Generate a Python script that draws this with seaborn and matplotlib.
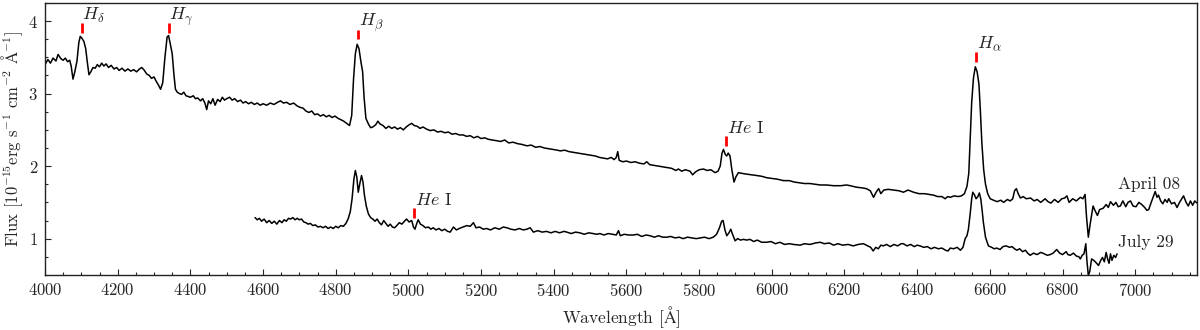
import numpy as np
import pandas as pd
import matplotlib
matplotlib.use("Agg")
import matplotlib.pyplot as plt
import seaborn as sns
from matplotlib.ticker import MultipleLocator

# spectrum of April 08 (wavelength in A, flux in 1e-15 erg/s/cm2/A)
april_wave = [
    4000, 4008, 4015, 4022, 4030, 4036, 4044, 4050, 4056, 4062, 4068, 4072, 4077, 4082, 4088, 4093,
    4097, 4102, 4107, 4112, 4116, 4121, 4126, 4132, 4138, 4144, 4150, 4156, 4162, 4168, 4175, 4182,
    4190, 4197, 4204, 4212, 4220, 4228, 4236, 4244, 4252, 4260, 4266, 4272, 4280, 4287, 4293, 4300,
    4306, 4312, 4318, 4324, 4330, 4336, 4340, 4345, 4350, 4355, 4359, 4364, 4370, 4376, 4382, 4388,
    4394, 4400, 4408, 4414, 4420, 4428, 4434, 4440, 4445, 4450, 4456, 4462, 4468, 4475, 4482, 4488,
    4494, 4500, 4508, 4515, 4522, 4530, 4538, 4545, 4552, 4560, 4568, 4576, 4584, 4592, 4600, 4610,
    4620, 4630, 4640, 4648, 4656, 4665, 4674, 4684, 4694, 4702, 4710, 4718, 4726, 4734, 4742, 4750,
    4758, 4766, 4774, 4782, 4790, 4798, 4806, 4814, 4822, 4830, 4838, 4844, 4849, 4854, 4859, 4864,
    4869, 4874, 4878, 4883, 4890, 4896, 4902, 4910, 4916, 4922, 4930, 4938, 4946, 4954, 4962, 4970,
    4978, 4986, 4994, 5002, 5009, 5016, 5024, 5032, 5040, 5050, 5060, 5070, 5080, 5090, 5100, 5110,
    5120, 5130, 5140, 5151, 5160, 5170, 5180, 5190, 5200, 5210, 5220, 5232, 5243, 5254, 5265, 5276,
    5288, 5300, 5312, 5326, 5338, 5350, 5362, 5374, 5386, 5398, 5410, 5418, 5430, 5442, 5455, 5466,
    5478, 5490, 5502, 5514, 5526, 5537, 5548, 5558, 5566, 5572, 5576, 5580, 5590, 5600, 5612, 5624,
    5636, 5648, 5656, 5664, 5676, 5688, 5700, 5712, 5724, 5736, 5743, 5752, 5762, 5775, 5782, 5790,
    5800, 5812, 5822, 5832, 5844, 5852, 5858, 5863, 5867, 5872, 5876, 5880, 5885, 5890, 5896, 5901,
    5908, 5918, 5930, 5945, 5959, 5972, 5986, 6000, 6015, 6032, 6048, 6062, 6076, 6090, 6105, 6120,
    6133, 6150, 6170, 6190, 6205, 6216, 6232, 6248, 6260, 6271, 6280, 6287, 6294, 6300, 6308, 6320,
    6335, 6350, 6362, 6375, 6390, 6405, 6420, 6432, 6445, 6456, 6468, 6477, 6484, 6491, 6502, 6513,
    6522, 6530, 6537, 6542, 6546, 6550, 6555, 6560, 6565, 6570, 6574, 6578, 6583, 6588, 6594, 6601,
    6610, 6620, 6630, 6638, 6648, 6656, 6663, 6668, 6673, 6678, 6684, 6692, 6700, 6712, 6722, 6730,
    6740, 6752, 6760, 6768, 6778, 6788, 6798, 6806, 6812, 6818, 6828, 6838, 6849, 6856, 6862, 6866,
    6871, 6876, 6884, 6890, 6896, 6902, 6912, 6920, 6926, 6932, 6940, 6947, 6953, 6959, 6966, 6974,
    6980, 6987, 6994, 7002, 7010, 7018, 7026, 7032, 7037, 7044, 7050, 7055, 7060, 7064, 7070, 7076,
    7082, 7088, 7092, 7100, 7108, 7115, 7122, 7128, 7133, 7140, 7146, 7152, 7158, 7164, 7170]
april_flux = [
    3.40, 3.47, 3.42, 3.49, 3.45, 3.54, 3.48, 3.46, 3.49, 3.44, 3.46, 3.38, 3.20, 3.30, 3.45, 3.70,
    3.79, 3.76, 3.72, 3.62, 3.45, 3.26, 3.30, 3.36, 3.35, 3.40, 3.37, 3.42, 3.38, 3.41, 3.36, 3.39,
    3.34, 3.36, 3.32, 3.35, 3.31, 3.34, 3.31, 3.33, 3.30, 3.34, 3.36, 3.33, 3.27, 3.25, 3.21, 3.23,
    3.17, 3.12, 3.06, 3.15, 3.50, 3.78, 3.80, 3.68, 3.55, 3.25, 3.06, 3.02, 3.00, 2.99, 3.02, 2.97,
    2.96, 2.95, 2.97, 2.93, 2.94, 2.90, 2.93, 2.87, 2.78, 2.90, 2.86, 2.93, 2.84, 2.92, 2.89, 2.95,
    2.91, 2.93, 2.95, 2.91, 2.93, 2.89, 2.91, 2.87, 2.89, 2.86, 2.88, 2.85, 2.87, 2.84, 2.86, 2.84,
    2.87, 2.85, 2.88, 2.90, 2.87, 2.88, 2.85, 2.87, 2.83, 2.81, 2.80, 2.76, 2.74, 2.76, 2.71, 2.72,
    2.69, 2.71, 2.68, 2.70, 2.67, 2.69, 2.66, 2.64, 2.62, 2.59, 2.56, 2.70, 3.20, 3.55, 3.68, 3.62,
    3.45, 3.30, 2.95, 2.66, 2.58, 2.53, 2.54, 2.57, 2.62, 2.58, 2.56, 2.52, 2.55, 2.52, 2.54, 2.51,
    2.53, 2.50, 2.54, 2.57, 2.59, 2.56, 2.55, 2.52, 2.54, 2.51, 2.49, 2.50, 2.47, 2.48, 2.46, 2.47,
    2.44, 2.45, 2.43, 2.43, 2.41, 2.42, 2.39, 2.41, 2.38, 2.39, 2.37, 2.36, 2.35, 2.34, 2.36, 2.32,
    2.33, 2.31, 2.30, 2.28, 2.29, 2.26, 2.27, 2.25, 2.24, 2.23, 2.22, 2.21, 2.22, 2.20, 2.19, 2.18,
    2.17, 2.16, 2.15, 2.14, 2.12, 2.11, 2.10, 2.12, 2.09, 2.12, 2.20, 2.08, 2.06, 2.07, 2.05, 2.06,
    2.04, 2.03, 2.06, 2.02, 2.01, 2.00, 1.99, 1.98, 1.97, 1.94, 1.96, 1.93, 1.95, 1.93, 1.88, 1.92,
    1.95, 1.96, 1.94, 1.95, 1.91, 1.93, 2.00, 2.18, 2.23, 2.16, 2.14, 2.18, 2.14, 1.95, 1.78, 1.85,
    1.91, 1.90, 1.89, 1.88, 1.87, 1.86, 1.84, 1.83, 1.82, 1.80, 1.80, 1.78, 1.77, 1.76, 1.76, 1.75,
    1.74, 1.74, 1.73, 1.73, 1.74, 1.73, 1.71, 1.70, 1.69, 1.66, 1.57, 1.64, 1.69, 1.62, 1.67, 1.68,
    1.67, 1.66, 1.64, 1.67, 1.64, 1.62, 1.62, 1.61, 1.60, 1.58, 1.58, 1.55, 1.58, 1.57, 1.59, 1.58,
    1.59, 1.62, 1.72, 1.90, 2.40, 2.88, 3.22, 3.37, 3.30, 3.13, 2.75, 2.32, 1.95, 1.75, 1.62, 1.55,
    1.53, 1.51, 1.53, 1.50, 1.54, 1.52, 1.55, 1.66, 1.69, 1.62, 1.56, 1.58, 1.55, 1.56, 1.52, 1.54,
    1.50, 1.55, 1.51, 1.49, 1.54, 1.50, 1.55, 1.56, 1.59, 1.50, 1.55, 1.52, 1.57, 1.55, 1.61, 1.30,
    1.02, 1.20, 1.45, 1.38, 1.32, 1.40, 1.42, 1.47, 1.43, 1.51, 1.46, 1.50, 1.44, 1.45, 1.52, 1.44,
    1.50, 1.52, 1.45, 1.44, 1.50, 1.47, 1.43, 1.39, 1.40, 1.50, 1.58, 1.65, 1.57, 1.60, 1.52, 1.48,
    1.54, 1.50, 1.55, 1.48, 1.50, 1.43, 1.50, 1.55, 1.59, 1.50, 1.45, 1.52, 1.46, 1.52, 1.49]

# spectrum of July 29
july_wave = [
    4578, 4584, 4590, 4596, 4603, 4610, 4617, 4624, 4631, 4638, 4645, 4652, 4658, 4664, 4670, 4676,
    4682, 4688, 4694, 4700, 4706, 4712, 4718, 4724, 4730, 4737, 4744, 4751, 4758, 4765, 4772, 4779,
    4786, 4793, 4800, 4807, 4814, 4821, 4828, 4834, 4840, 4845, 4850, 4854, 4858, 4862, 4866, 4871,
    4875, 4879, 4884, 4890, 4896, 4902, 4908, 4914, 4920, 4926, 4932, 4938, 4944, 4950, 4956, 4962,
    4968, 4975, 4982, 4989, 4995, 5002, 5009, 5014, 5018, 5023, 5027, 5033, 5040, 5047, 5055, 5062,
    5068, 5076, 5084, 5092, 5100, 5108, 5115, 5124, 5132, 5140, 5150, 5161, 5170, 5179, 5186, 5196,
    5206, 5215, 5226, 5238, 5250, 5261, 5271, 5282, 5294, 5305, 5316, 5326, 5335, 5344, 5356, 5368,
    5380, 5392, 5404, 5416, 5428, 5436, 5448, 5460, 5472, 5484, 5496, 5508, 5518, 5527, 5538, 5550,
    5562, 5572, 5578, 5583, 5594, 5606, 5619, 5630, 5642, 5654, 5665, 5677, 5688, 5700, 5711, 5722,
    5734, 5745, 5756, 5768, 5780, 5792, 5803, 5815, 5827, 5839, 5848, 5856, 5862, 5866, 5871, 5876,
    5882, 5887, 5892, 5899, 5906, 5914, 5922, 5931, 5940, 5950, 5960, 5972, 5986, 5998, 6010, 6022,
    6035, 6048, 6060, 6078, 6090, 6105, 6120, 6133, 6145, 6158, 6170, 6182, 6195, 6210, 6224, 6238,
    6252, 6264, 6272, 6279, 6286, 6293, 6300, 6307, 6316, 6326, 6336, 6346, 6356, 6362, 6372, 6382,
    6392, 6400, 6408, 6418, 6428, 6438, 6448, 6458, 6468, 6478, 6485, 6491, 6500, 6510, 6519, 6526,
    6532, 6537, 6541, 6546, 6550, 6553, 6558, 6562, 6567, 6571, 6575, 6579, 6582, 6588, 6596, 6605,
    6612, 6619, 6628, 6636, 6645, 6654, 6661, 6668, 6674, 6682, 6690, 6698, 6704, 6711, 6720, 6730,
    6740, 6750, 6758, 6766, 6774, 6784, 6792, 6800, 6810, 6815, 6821, 6830, 6838, 6845, 6849, 6854,
    6859, 6864, 6867, 6871, 6875, 6880, 6886, 6892, 6899, 6905, 6910, 6915, 6920, 6924, 6928, 6932,
    6936, 6941, 6946, 6950]
july_flux = [
    1.29, 1.26, 1.28, 1.24, 1.27, 1.22, 1.25, 1.21, 1.24, 1.20, 1.25, 1.22, 1.26, 1.24, 1.28, 1.27,
    1.29, 1.26, 1.28, 1.26, 1.27, 1.23, 1.22, 1.20, 1.21, 1.18, 1.19, 1.16, 1.17, 1.15, 1.17, 1.14,
    1.16, 1.14, 1.17, 1.15, 1.18, 1.17, 1.21, 1.27, 1.37, 1.55, 1.82, 1.94, 1.85, 1.64, 1.75, 1.87,
    1.78, 1.60, 1.45, 1.34, 1.29, 1.27, 1.24, 1.27, 1.22, 1.19, 1.25, 1.21, 1.17, 1.20, 1.16, 1.15,
    1.18, 1.22, 1.20, 1.24, 1.27, 1.23, 1.25, 1.16, 1.13, 1.21, 1.26, 1.20, 1.18, 1.15, 1.16, 1.13,
    1.15, 1.12, 1.14, 1.11, 1.13, 1.10, 1.09, 1.16, 1.12, 1.14, 1.16, 1.18, 1.17, 1.22, 1.15, 1.16,
    1.13, 1.14, 1.12, 1.15, 1.13, 1.16, 1.15, 1.13, 1.12, 1.14, 1.12, 1.13, 1.15, 1.09, 1.11, 1.09,
    1.10, 1.08, 1.10, 1.08, 1.10, 1.09, 1.07, 1.09, 1.08, 1.06, 1.08, 1.07, 1.06, 1.07, 1.05, 1.07,
    1.06, 1.05, 1.11, 1.04, 1.06, 1.05, 1.05, 1.06, 1.03, 1.05, 1.04, 1.02, 1.04, 1.02, 1.02, 1.03,
    1.01, 1.02, 1.00, 1.02, 1.01, 1.00, 1.01, 1.02, 1.00, 1.02, 1.06, 1.15, 1.24, 1.25, 1.12, 1.04,
    1.08, 1.13, 1.06, 0.97, 1.00, 0.98, 0.99, 0.98, 0.99, 0.96, 0.98, 0.95, 0.95, 0.96, 0.93, 0.95,
    0.92, 0.93, 0.92, 0.91, 0.93, 0.92, 0.94, 0.95, 0.93, 0.94, 0.91, 0.93, 0.91, 0.92, 0.90, 0.92,
    0.93, 0.90, 0.88, 0.83, 0.88, 0.86, 0.91, 0.90, 0.92, 0.89, 0.92, 0.90, 0.93, 0.93, 0.90, 0.92,
    0.89, 0.91, 0.90, 0.88, 0.89, 0.86, 0.88, 0.86, 0.87, 0.84, 0.83, 0.87, 0.86, 0.88, 0.84, 0.88,
    1.00, 1.04, 1.13, 1.35, 1.55, 1.64, 1.60, 1.55, 1.58, 1.63, 1.55, 1.38, 1.23, 1.02, 0.90, 0.88,
    0.86, 0.87, 0.85, 0.89, 0.90, 0.88, 0.89, 0.86, 0.84, 0.86, 0.82, 0.84, 0.80, 0.77, 0.80, 0.78,
    0.81, 0.79, 0.77, 0.78, 0.80, 0.85, 0.80, 0.78, 0.82, 0.78, 0.77, 0.80, 0.76, 0.75, 0.72, 0.77,
    0.79, 0.93, 0.70, 0.49, 0.55, 0.72, 0.70, 0.67, 0.63, 0.70, 0.74, 0.68, 0.81, 0.72, 0.66, 0.79,
    0.70, 0.77, 0.74, 0.79]

# line identifications: label, wavelength, bottom of the red marker
line_labels = [r"$H_\delta$", r"$H_\gamma$", r"$H_\beta$", r"$He$ I", r"$H_\alpha$", r"$He$ I"]
line_wave = [4101, 4340, 4861, 5875, 6563, 5015]
line_base = [3.84, 3.84, 3.75, 2.28, 3.44, 1.29]

date_labels = ["April 08", "July 29"]
date_pos = [(6953, 1.75), (6953, 0.95)]

april = pd.DataFrame({"wave": april_wave, "flux": april_flux})
july = pd.DataFrame({"wave": july_wave, "flux": july_flux})

sns.set_style("ticks", {"xtick.direction": "in", "ytick.direction": "in"})
plt.rcParams["font.family"] = ["cmr10", "DejaVu Serif"]
plt.rcParams["mathtext.fontset"] = "cm"
plt.rcParams["axes.unicode_minus"] = False
plt.rcParams["axes.formatter.use_mathtext"] = True

fig = plt.figure(figsize=(12, 3.3), dpi=100)
ax = fig.add_axes([0.0375, 0.167, 0.96, 0.824])

sns.lineplot(data=april, x="wave", y="flux", color="black", lw=1.1, ax=ax,
             estimator=None, sort=False)
sns.lineplot(data=july, x="wave", y="flux", color="black", lw=1.1, ax=ax,
             estimator=None, sort=False)

ax.vlines(line_wave, line_base, np.array(line_base) + 0.13, color="red", lw=2)
for lab, w, b in zip(line_labels, line_wave, line_base):
    ax.text(w + 2, b + 0.18, lab, fontsize=13, ha="left", va="baseline")

for lab, (x, y) in zip(date_labels, date_pos):
    ax.text(x, y, lab, fontsize=12.5, ha="left", va="center")

ax.set_xlim(4000, 7170)
ax.set_ylim(0.5, 4.25)
ax.xaxis.set_major_locator(MultipleLocator(200))
ax.xaxis.set_minor_locator(MultipleLocator(50))
ax.yaxis.set_major_locator(MultipleLocator(1))
ax.yaxis.set_minor_locator(MultipleLocator(0.25))
ax.tick_params(which="major", length=4, width=0.8, labelsize=12, direction="in", pad=5)
ax.tick_params(which="minor", length=2.5, width=0.8, direction="in")
for s in ax.spines.values():
    s.set_linewidth(1.0)
    s.set_color("#222222")

ax.set_xlabel(r"Wavelength [$\mathrm{\AA}$]", fontsize=12.5, labelpad=4)
ax.set_ylabel(r"Flux [$10^{-15}$erg s$^{-1}$ cm$^{-2}$ $\mathrm{\AA}^{-1}$]", fontsize=12, labelpad=2)

fig.savefig("out.png", dpi=100)
